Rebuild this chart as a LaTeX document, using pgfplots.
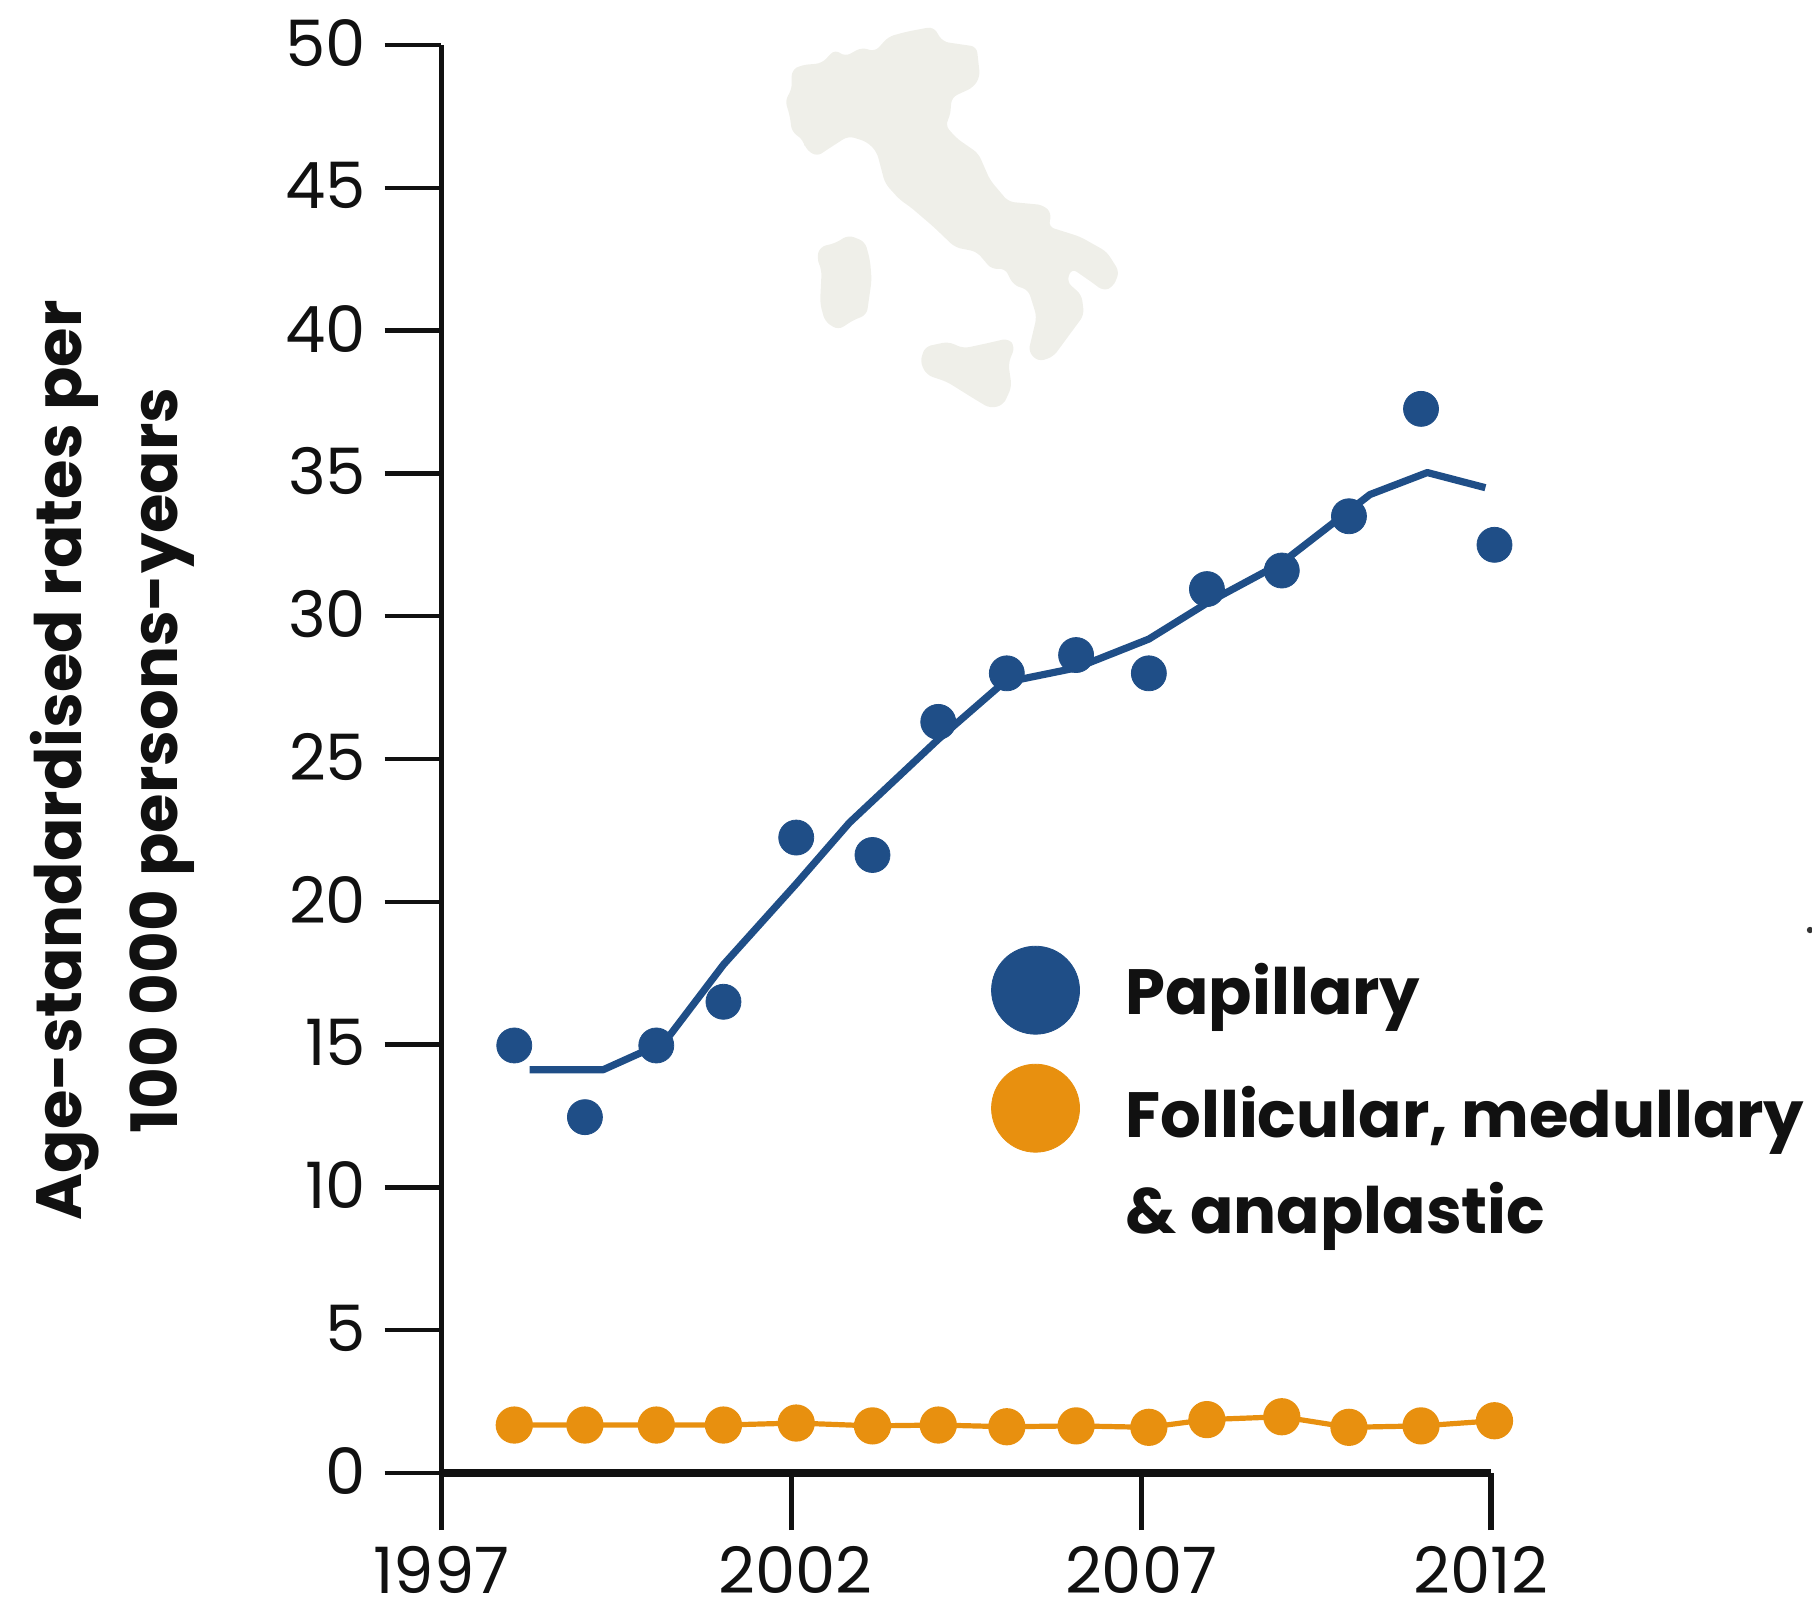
\documentclass[border=0pt]{standalone}
\usepackage{pgfplots}
\pgfplotsset{compat=1.18}
\usepackage{fontspec}
\setmainfont{Poppins}
\definecolor{pblue}{HTML}{1F4E87}
\definecolor{porange}{HTML}{E8900F}
\definecolor{ink}{HTML}{111111}
\definecolor{land}{HTML}{EFEFE9}
\begin{document}
\begin{tikzpicture}
\path[use as bounding box] (0pt,0pt) rectangle (906pt,-801pt);
\begin{scope}[x=0.16667pt,y=-0.16667pt,shift={(2280,30)}]
\fill[land,rounded corners=3pt] (520,50)--(548,95)--(650,110)--(660,200)--(640,232)--(575,262)--(570,320)--(555,345)--(590,385)--(655,430)--(690,510)--(745,575)--(850,585)--(875,610)--(865,650)--(960,680)--(1040,725)--(1078,785)--(1060,830)--(1030,843)--(1000,820)--(935,775)--(920,815)--(965,855)--(972,915)--(935,965)--(880,1040)--(835,1055)--(805,1025)--(830,920)--(805,840)--(760,825)--(735,775)--(695,778)--(650,725)--(585,712)--(520,650)--(450,590)--(420,570)--(375,520)--(350,425)--(320,395)--(265,378)--(215,410)--(170,440)--(135,415)--(130,390)--(95,365)--(90,320)--(75,270)--(95,240)--(95,180)--(125,165)--(185,160)--(225,118)--(255,140)--(305,112)--(345,125)--(385,80)--(440,65)--cycle;
\fill[land,rounded corners=3pt] (265,675)--(315,695)--(330,750)--(335,810)--(320,915)--(280,930)--(235,960)--(195,935)--(180,880)--(185,780)--(170,745)--(180,710)--(225,700)--cycle;
\fill[land,rounded corners=3pt] (745,985)--(765,1010)--(745,1060)--(755,1130)--(730,1185)--(690,1195)--(640,1165)--(560,1115)--(500,1095)--(480,1055)--(495,1010)--(565,995)--(610,1015)--(680,1000)--cycle;
\end{scope}
\fill[black!80] (905pt,-465pt) circle (1.6pt);
\begin{axis}[
  at={(220.75pt,-736.5pt)},anchor=south west,
  scale only axis,width=524.75pt,height=714pt,
  xmin=1997,xmax=2012,ymin=0,ymax=50,
  clip=false,
  axis x line=bottom,axis y line=left,
  axis line style={-,ink},
  x axis line style={line width=3.6pt},
  y axis line style={line width=2.8pt},
  xtick={1997,2002,2007,2012},
  xticklabels={1997,\kern4pt 2002,2007,\kern-10pt 2012},
  ytick={0,5,10,15,20,25,30,35,40,45,50},
  major tick length=28.5pt,
  tick align=outside,
  xtick style={ink,line width=2.6pt},
  ytick style={ink,line width=2.2pt},
  /pgf/number format/assume math mode=true,
  /pgf/number format/set thousands separator={},
  tick label style={font=\fontsize{32}{32}\selectfont,text=ink},
  xticklabel style={inner ysep=0pt,yshift=-8pt},
  yticklabel style={xshift=-5.8pt,yshift=1pt},
  ylabel={\textbf{Age-standardised rates per}\\ \textbf{100\,000 persons-years}},
  ylabel style={align=center,font=\fontsize{32}{48}\selectfont,text=ink,
    at={(axis description cs:-0.3138,0.499)},anchor=center},
  legend style={at={(axis cs:2004.77,18.6)},anchor=north west,draw=none,fill=none,
    nodes={inner ysep=0pt,font=\fontsize{32}{32}\selectfont\bfseries,text=ink},
    cells={anchor=west},row sep=15pt},
]
\addplot[forget plot,pblue,line width=3.6pt,line join=round] coordinates {
(1998.26,14.12)(1999.31,14.12)(2000.19,15.09)(2001.03,17.8)(2002.07,20.63)(2002.83,22.77)
(2004.10,25.69)(2005.03,27.67)(2006.07,28.19)(2007.11,29.2)(2007.94,30.46)(2009.01,31.87)
(2010.27,34.26)(2011.09,35.03)(2011.92,34.5)};
\addplot[forget plot,only marks,mark=*,mark size=8.75pt,pblue] coordinates {
(1998.04,14.97)(1999.05,12.46)(2000.07,14.97)(2001.03,16.5)(2002.07,22.25)(2003.16,21.64)
(2004.10,26.3)(2005.08,28.0)(2006.07,28.64)(2007.11,28.0)(2007.94,30.95)(2009.01,31.6)
(2009.97,33.5)(2011.0,37.26)(2012.05,32.5)};
\addplot[forget plot,porange,line width=2.6pt,mark=*,mark size=8pt,mark options={solid}] coordinates {
(1998.04,1.68)(1999.05,1.68)(2000.07,1.68)(2001.03,1.68)(2002.07,1.75)(2003.16,1.65)
(2004.10,1.68)(2005.08,1.62)(2006.07,1.65)(2007.11,1.6)(2007.94,1.87)(2009.01,1.97)
(2009.97,1.6)(2011.0,1.65)(2012.05,1.83)};
\addlegendimage{only marks,mark=*,mark size=22pt,pblue}
\addlegendentry{\hspace*{21pt}Papillary}
\addlegendimage{only marks,mark=*,mark size=22pt,porange,mark options={yshift=2.5pt}}
\addlegendentry{\hspace*{21pt}Follicular, medullary}
\addlegendimage{empty legend}
\addlegendentry{\hspace*{21pt}\& anaplastic\rule{0pt}{25pt}}
\end{axis}
\end{tikzpicture}
\end{document}
